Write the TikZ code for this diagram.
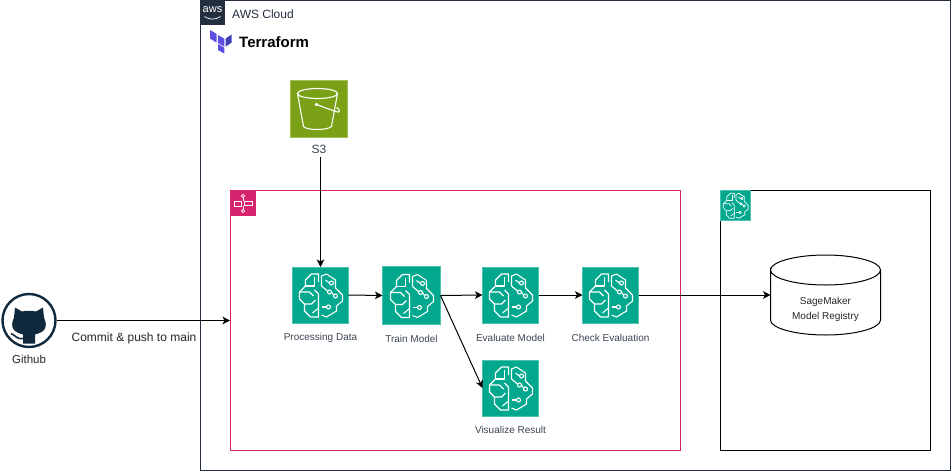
\documentclass[tikz,border=0pt]{standalone}
\usepackage{fontspec}
\setmainfont{Liberation Sans}
\usetikzlibrary{arrows.meta}

\definecolor{awsdark}{HTML}{232F3E}
\definecolor{smteal}{HTML}{01A88D}
\definecolor{sfpink}{HTML}{D6246E}
\definecolor{s3green}{HTML}{7AA116}
\definecolor{gitdark}{HTML}{10293C}
\definecolor{labelgray}{HTML}{3B4552}
\definecolor{tfviolet}{HTML}{5C4EE5}
\definecolor{tfdeep}{HTML}{4040B2}

\tikzset{
  tile/.style={inner sep=0pt,outer sep=0pt,minimum size=#1},
  smtile/.style={tile=#1,fill=smteal,draw=smteal!70!white,line width=.6pt},
  steplabel/.style={font=\fontsize{10}{12}\selectfont,text=labelgray,inner sep=0pt},
  link/.style={-{Stealth[length=7.5pt,width=7.5pt,inset=2pt]},line width=1pt},
  brain/.pic={
    \begin{scope}[white,line width=#1,line join=round,fill=none]
      % left half
      \draw (-2,-13) -- (-2,-21) -- (-9,-21) -- (-15,-15) -- (-15,-9) -- (-21,-3) -- (-21,4) -- (-16,9) -- (-16,16) -- (-10,22) -- (-2,22) -- (-2,-1) -- (-6,-5);
      \draw (-6,-18) -- (-6,-9) -- (-15,-9);
      \draw (-21,-3) -- (-11,-3) -- (-7,1);
      \draw (-16,9) -- (-9,9) -- (-5,5);
      \draw (-2,13) -- (-8,18);
      % right half
      \draw (1,-9) -- (1,-19) -- (6,-21) -- (15,-15) -- (15,-7) -- (22,0) -- (22,6) -- (16,11) -- (16,16) -- (6,22) -- (1,20);
      \draw (1,-9) -- (7,-4);
      \draw (5,-15) -- (9,-12);
      \draw (11,-3) -- (13,0);
      \draw (1,12) -- (6,12);
      \draw (9,-3) circle (2);
      \draw (11,-12) circle (2);
      \draw (8,12) circle (2);
      \draw (15,1) circle (2);
    \end{scope}
  },
}

\begin{document}
\begin{tikzpicture}[x=1pt,y=-1pt]
\useasboundingbox (0,0) rectangle (951,472);

% containers
\node (cloud) [draw=awsdark,line width=1pt,minimum width=750pt,minimum height=470pt,inner sep=0pt] at (575.5,235.5) {};
\node (pipeline) [draw=sfpink,line width=1pt,minimum width=450pt,minimum height=260pt,inner sep=0pt] at (455.5,320.5) {};
\node (registrybox) [draw=black,line width=1pt,minimum width=210pt,minimum height=260pt,inner sep=0pt] at (825.5,320.5) {};

% aws corner
\node (awstile) [tile=25pt,fill=awsdark] at (212.5,12.5) {};
\node (awstext) [font=\fontsize{11}{11}\selectfont,text=white,inner sep=0pt] at (212.5,10) {aws};
\draw [white,line width=.7pt] (204.5,16.5) .. controls (209,20) and (216,20) .. (220.5,16.5);
\node (cloudlabel) [font=\fontsize{12}{14}\selectfont,text=awsdark,anchor=west,inner sep=0pt] at (232,14) {AWS Cloud};

% terraform
\fill [tfviolet] (210,30) -- (216.7,34) -- (216.7,42.7) -- (210,38.5) -- cycle;
\fill [tfviolet] (218,35) -- (224.3,38.7) -- (224.3,46.7) -- (218,43) -- cycle;
\fill [tfviolet] (218,44) -- (224.3,47.7) -- (224.3,53.5) -- (218,50) -- cycle;
\fill [tfdeep] (225.5,38.7) -- (231.5,34.5) -- (231.5,42.7) -- (225.5,46.7) -- cycle;
\node (terraform) [font=\fontsize{15}{16}\selectfont\bfseries,text=black,anchor=west,inner sep=0pt] at (239,42) {Terraform};

% s3
\node (s3) [tile=57pt,fill=s3green,draw=s3green!70!white,line width=.6pt] at (318.5,108.5) {};
\begin{scope}[shift={(s3.center)},white,line width=1.1pt]
  \draw (-1,-15) ellipse (20 and 5);
  \draw (-21,-15) -- (-15,18) .. controls (-12,22) and (9,22) .. (13,18) -- (19,-15);
  \draw (-2,-4) -- (17,3) .. controls (22,5) and (22,1) .. (18,-1);
  \fill (-2,-4) circle (1.8);
\end{scope}
\node (s3label) [steplabel,font=\fontsize{12}{14}\selectfont] at (319,149) {S3};

% pipeline icon
\node (sftile) [tile=25pt,fill=sfpink] at (243,203) {};
\begin{scope}[shift={(sftile.center)},white,line width=.8pt]
  \draw (-9,-2) rectangle (-2,3);
  \draw (1,-2) rectangle (9,2);
  \draw (0,-5) -- (0,-2);
  \draw (0,3) -- (0,6);
  \draw (0,-7) circle (1.6);
  \draw (0,8) circle (1.6);
\end{scope}

% pipeline steps
\node (processing) [smtile=56pt] at (320.5,295) {};
\node (train) [smtile=58pt] at (411.5,295.5) {};
\node (evaluate) [smtile=56pt] at (510.5,295) {};
\node (check) [smtile=56pt] at (610.5,295) {};
\node (visualize) [smtile=56pt] at (510.5,388) {};

\pic at (processing.center) {brain=1.1pt};
\pic at (train.center) {brain=1.1pt};
\pic at (evaluate.center) {brain=1.1pt};
\pic at (check.center) {brain=1.1pt};
\pic at (visualize.center) {brain=1.1pt};

\node (processinglabel) [steplabel] at (320.5,338) {Processing Data};
\node (trainlabel) [steplabel] at (411.5,339) {Train Model};
\node (evaluatelabel) [steplabel] at (510.5,338) {Evaluate Model};
\node (checklabel) [steplabel] at (610.5,338) {Check Evaluation};
\node (visualizelabel) [steplabel] at (510.5,430) {Visualize Result};

% registry
\node (regtile) [smtile=30pt] at (735.5,205.5) {};
\pic [scale=.58] at (regtile.center) {brain=.7pt};
\node (registry) [minimum width=110pt,minimum height=80pt,inner sep=0pt,outer sep=0pt] at (825.5,295) {};
\begin{scope}[shift={(registry.center)}]
  \draw [line width=1pt] (-55,-25) .. controls (-55,-33) and (-30.4,-40) .. (0,-40) .. controls (30.4,-40) and (55,-33) .. (55,-25) .. controls (55,-17) and (30.4,-10) .. (0,-10) .. controls (-30.4,-10) and (-55,-17) .. (-55,-25) -- (-55,25) .. controls (-55,33) and (-30.4,40) .. (0,40) .. controls (30.4,40) and (55,33) .. (55,25) -- (55,-25);
\end{scope}
\node (registrylabel) [steplabel,align=center,font=\fontsize{10}{15}\selectfont,text=black!85] at (825.5,309) {SageMaker\\Model Registry};

% github
\node (github) [circle,draw=gitdark,line width=2.4pt,fill=white,minimum size=53pt,inner sep=0pt] at (29,320.5) {};
\begin{scope}[shift={(github.center)}]
  \fill [gitdark] (-14,-13) -- (-15,-3) .. controls (-20,8) and (-14,12) .. (-6,14) -- (-6,23) -- (6,23) -- (6,14) .. controls (14,12) and (20,8) .. (15,-3) -- (14,-13) -- (7,-9) .. controls (3,-10) and (-3,-10) .. (-7,-9) -- cycle;
  \draw [gitdark,line width=1.6pt] (-18,13) .. controls (-14,14) and (-13,19) .. (-6,18);
\end{scope}
\node (githublabel) [font=\fontsize{11.5}{13}\selectfont,text=black!85,inner sep=0pt] at (29,359) {Github};

% connectors
\draw [link] (github.east) -- (pipeline.west);
\node (commitlabel) [font=\fontsize{12}{14}\selectfont,text=black!85,inner sep=0pt] at (134,338) {Commit \& push to main};
\draw [link] (s3label.south -| processing.north) ++(0,4) -- (processing.north);
\draw [link] (processing.east) -- (train.west);
\draw [link] (train.east) -- (evaluate.west);
\draw [link] (train.east) -- (visualize.west);
\draw [link] (evaluate.east) -- (check.west);
\draw [link] (check.east) -- (registry.west);
\end{tikzpicture}
\end{document}
